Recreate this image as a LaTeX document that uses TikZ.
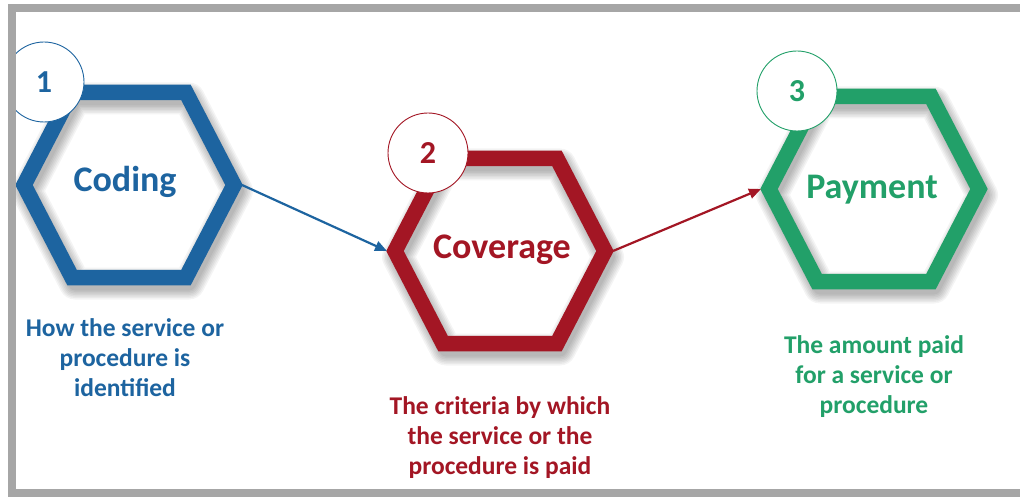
\documentclass[tikz,border=0pt]{standalone}
\usepackage{fontspec}
\setmainfont{Carlito}
\usetikzlibrary{arrows.meta,calc}

\definecolor{codeblue}{RGB}{29,100,160}
\definecolor{covred}{RGB}{163,22,36}
\definecolor{paygreen}{RGB}{34,160,105}
\definecolor{framegray}{RGB}{166,166,166}

% centre line of one hexagonal ring (pixel units, y downwards)
\newcommand\hexshape{(-105,0) -- (-57,-92.5) -- (57,-92.5) -- (105,0) -- (57,92.5) -- (-57,92.5) -- cycle}

% soft shadow plus the coloured ring, centred on a named coordinate
\newcommand\hexring[2]{%
  \begin{scope}[shift={($(#1)+(3,6)$)}]
    \foreach \k in {0,...,6}{%
      \draw[black, opacity=0.045, line join=round, line width={14+3*\k}] \hexshape;}
  \end{scope}
  \begin{scope}[shift={(#1)}]
    \draw[ring, draw=#2] \hexshape;
  \end{scope}}

\tikzset{
  ring/.style={line width=15.5pt, line join=miter},
  badge/.style={circle, draw=#1, line width=0.9pt, fill=white, minimum size=80pt,
    inner sep=0pt, text=#1, font=\bfseries\fontsize{32}{32}\selectfont},
  title/.style={text=#1, font=\bfseries\fontsize{36}{40}\selectfont},
  note/.style={text=#1, align=center, font=\bfseries\fontsize{25.5}{30}\selectfont},
  link/.style={draw=#1, line width=2.2pt, -{Triangle[length=12pt,width=10pt]}},
}

\begin{document}
\begin{tikzpicture}[x=1pt, y=-1pt]
  \useasboundingbox (0,0) rectangle (1020,497);
  \fill[white] (0,0) rectangle (1020,497);

  \coordinate (h1) at (129,185);
  \coordinate (h2) at (500,251);
  \coordinate (h3) at (874,189);

  \coordinate (h1e) at ($(h1)+(113,0)$);
  \coordinate (h2w) at ($(h2)+(-113,0)$);
  \coordinate (h2e) at ($(h2)+(113,0)$);
  \coordinate (h3w) at ($(h3)+(-113,0)$);

  \begin{scope}
    \clip (16,12) rectangle (1020,489);

    \hexring{h1}{codeblue}
    \hexring{h2}{covred}
    \hexring{h3}{paygreen}

    \draw[link=codeblue] (h1e) -- (h2w);
    \draw[link=covred] (h2e) -- (h3w);

    \node[badge=codeblue] (n1) at (44,82) {1};
    \node[badge=covred] (n2) at (428,153) {2};
    \node[badge=paygreen] (n3) at (797,91) {3};

    \node[title=codeblue] (t1) at (125,182) {Coding};
    \node[title=covred] (t2) at (502,250) {Coverage};
    \node[title=paygreen] (t3) at (872,190) {Payment};

    \node[note=codeblue] (d1) at (125,358) {How the service or\\procedure is\\identified};
    \node[note=covred] (d2) at (500,438) {The criteria by which\\the service or the\\procedure is paid};
    \node[note=paygreen] (d3) at (874,377) {The amount paid\\for a service or\\procedure};
  \end{scope}

  % grey frame along the top, left and bottom
  \fill[framegray] (8,4) rectangle (1020,12);
  \fill[framegray] (8,4) rectangle (16,497);
  \fill[framegray] (8,489) rectangle (1020,497);
\end{tikzpicture}
\end{document}
